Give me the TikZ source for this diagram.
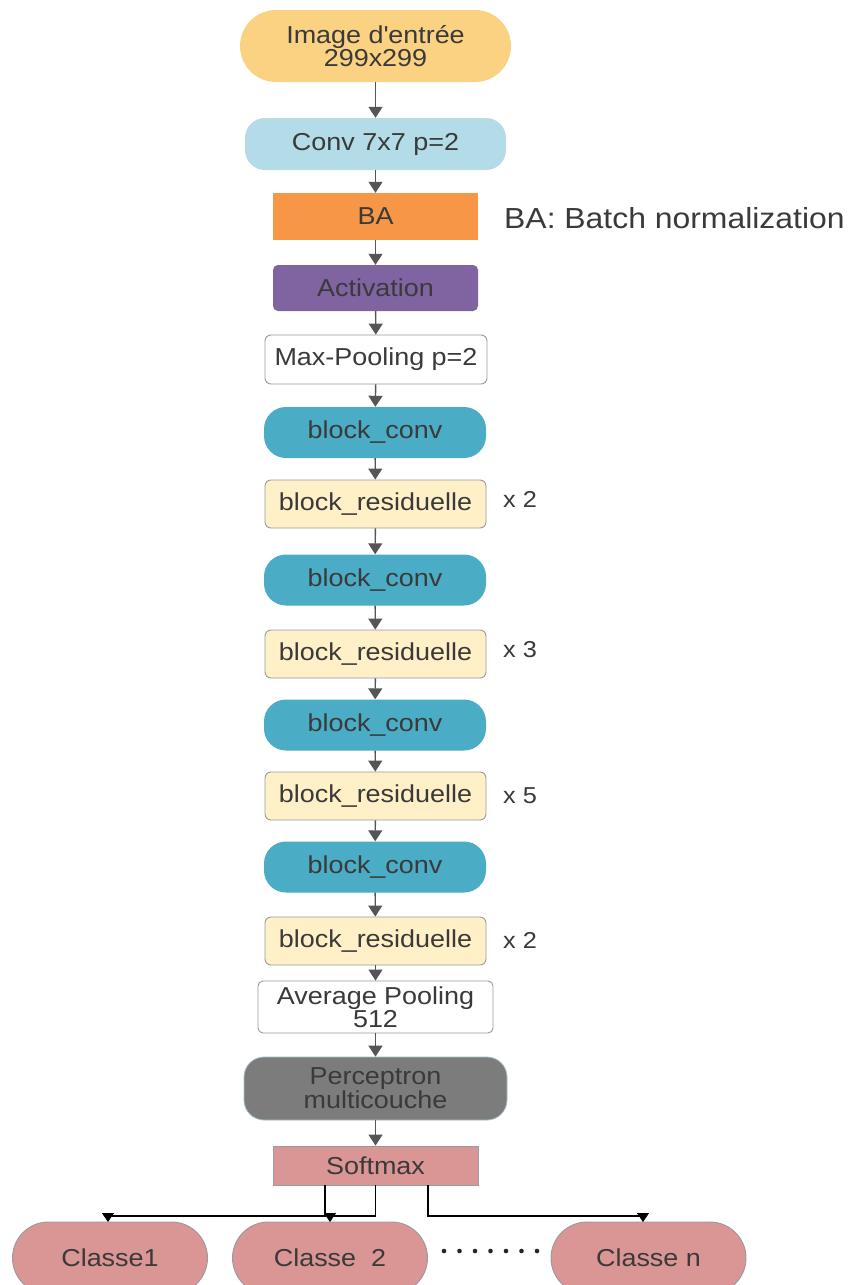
\documentclass[tikz,border=0pt]{standalone}
\usepackage{fontspec}
\setmainfont{Liberation Sans}[FakeStretch=1.1]
\usetikzlibrary{arrows.meta}
\definecolor{txt}{HTML}{3A3A3A}
\definecolor{arrowc}{HTML}{555555}
\definecolor{cimg}{HTML}{FAD282}
\definecolor{cconv}{HTML}{B4DCE8}
\definecolor{cba}{HTML}{F79646}
\definecolor{cact}{HTML}{8064A2}
\definecolor{cblk}{HTML}{4BACC6}
\definecolor{cres}{HTML}{FFF0C8}
\definecolor{cperc}{HTML}{7C7C7C}
\definecolor{csoft}{HTML}{D99694}
\definecolor{cbord}{HTML}{9A9A9A}
\begin{document}
\begin{tikzpicture}[x=1pt,y=-1pt,
  base/.style={inner sep=0pt, text=txt, align=center, font=\fontsize{24.5}{22.5}\selectfont},
  imgbox/.style={base, fill=cimg, minimum width=271pt, minimum height=72pt, rounded corners=36pt},
  convbox/.style={base, fill=cconv, minimum width=261pt, minimum height=52pt, rounded corners=20pt},
  babox/.style={base, fill=cba, minimum width=205pt, minimum height=47pt},
  actbox/.style={base, fill=cact, minimum width=205pt, minimum height=46pt, rounded corners=5pt},
  whitebox/.style={base, fill=white, draw=cbord, line width=0.9pt, rounded corners=6pt, minimum height=49pt},
  blkbox/.style={base, fill=cblk, minimum width=222pt, minimum height=51pt, rounded corners=22pt},
  resbox/.style={base, fill=cres, draw=cbord, line width=0.9pt, minimum width=221pt, minimum height=48pt, rounded corners=6pt},
  percbox/.style={base, fill=cperc, draw=cconv!70!gray, line width=0.8pt, minimum width=263pt, minimum height=63pt, rounded corners=20pt},
  softbox/.style={base, fill=csoft, draw=cbord, line width=0.9pt, minimum width=205pt, minimum height=39pt},
  classbox/.style={base, fill=csoft, draw=cbord, line width=0.9pt, minimum width=195pt, minimum height=72pt, rounded corners=36pt},
  mult/.style={inner sep=0pt, text=txt, anchor=west, font=\fontsize{23}{23}\selectfont},
  arr/.style={draw=arrowc, line width=1.4pt, -{Triangle[length=11pt,width=14pt]}},
  carr/.style={draw=black, line width=1.1pt, -{Triangle[length=9pt,width=12pt]}}
]
\path[use as bounding box, fill=white] (0,0) rectangle (848,1285);
\begin{scope}
\clip (0,0) rectangle (848,1285);

\node[imgbox] (img) at (375.5,46) {Image d\textquotesingle entrée\\299x299};
\node[convbox] (conv) at (375.5,144) {Conv 7x7 p=2};
\node[babox] (ba) at (375.5,216.5) {BA};
\node[actbox] (act) at (375.5,288) {Activation};
\node[whitebox, minimum width=222pt] (mp) at (376,359.5) {Max-Pooling p=2};
\node[blkbox] (b1) at (375,432.5) {block\_conv};
\node[resbox] (r1) at (375.5,504) {block\_residuelle};
\node[blkbox] (b2) at (375,580) {block\_conv};
\node[resbox] (r2) at (375.5,654) {block\_residuelle};
\node[blkbox] (b3) at (375,725) {block\_conv};
\node[resbox] (r3) at (375.5,796) {block\_residuelle};
\node[blkbox] (b4) at (375,867) {block\_conv};
\node[resbox] (r4) at (375.5,941) {block\_residuelle};
\node[whitebox, minimum width=235pt, minimum height=52pt, rounded corners=5pt] (avg) at (375.5,1007) {Average Pooling\\512};
\node[percbox] (perc) at (375.5,1088.5) {Perceptron\\multicouche};
\node[softbox] (soft) at (375.5,1165.5) {Softmax};

\node[classbox] (c1) at (110,1258) {Classe1};
\node[classbox] (c2) at (330,1258) {Classe~~2};
\node[classbox] (cn) at (648.5,1258) {Classe n};

\node[inner sep=0pt, text=txt, anchor=west, font=\fontsize{29}{29}\selectfont] (leg) at (504,218) {BA: Batch normalization};
\node[mult] (m1) at (503,499) {x 2};
\node[mult] (m2) at (503,650) {x 3};
\node[mult] (m3) at (503,796) {x 5};
\node[mult] (m4) at (503,940) {x 2};

\draw[arr] (img) -- (conv);
\draw[arr] (conv) -- (ba);
\draw[arr] (ba) -- (act);
\draw[arr] (act) -- (mp);
\draw[arr] (mp) -- (b1);
\draw[arr] (b1) -- (r1);
\draw[arr] (r1) -- (b2);
\draw[arr] (b2) -- (r2);
\draw[arr] (r2) -- (b3);
\draw[arr] (b3) -- (r3);
\draw[arr] (r3) -- (b4);
\draw[arr] (b4) -- (r4);
\draw[arr] (r4) -- (avg);
\draw[arr] (avg) -- (perc);
\draw[arr] (perc) -- (soft);

\coordinate (s1) at (325,1185);
\coordinate (s2) at (375.5,1185);
\coordinate (s3) at (428,1185);
\draw[carr] (s1) -- (325,1216) -- (108,1216) -- (108,1222);
\draw[carr] (s2) -- (375.5,1216) -- (330,1216) -- (330,1222);
\draw[carr] (s3) -- (428,1216) -- (643,1216) -- (643,1222);

\foreach \i in {0,...,6} \fill[black!85] (444+\i*15.5,1251) circle (2.3pt);
\end{scope}
\end{tikzpicture}
\end{document}
